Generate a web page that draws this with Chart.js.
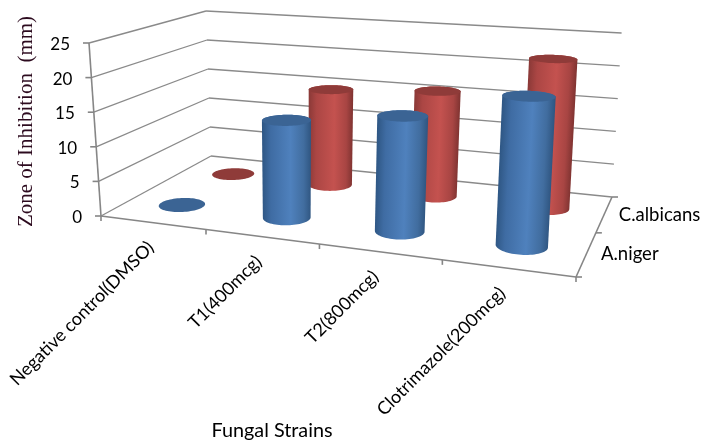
<!DOCTYPE html>
<html>
<head>
<meta charset="utf-8">
<script src="https://cdn.jsdelivr.net/npm/chart.js@4"></script>
<style>html,body{margin:0;padding:0;background:#fff}canvas{display:block}</style>
</head>
<body>
<canvas id="c" width="702" height="442"></canvas>
<script>
const categories = ['Negative control(DMSO)', 'T1(400mcg)', 'T2(800mcg)', 'Clotrimazole(200mcg)'];
const depthLabels = ['A.niger', 'C.albicans'];
const aNiger = [0, 14, 16, 20];
const cAlbicans = [0, 15, 16, 22];
const yTickMax = 25;
const yTickStep = 5;
const yTitle = 'Zone of Inhibition  (mm)';
const xTitle = 'Fungal Strains';

// projection of the unit box (u along categories, v along depth, w along values)
const floorQuad = [[101,216],[576,277],[612,197],[211,156]];
const topQuad   = [[89,43],[587,75],[621.6,33],[206,11]];
const SANS = 'Lato, "Open Sans", sans-serif';

function homography(q){
  const [p0,p1,p2,p3]=q;
  const sx=p0[0]-p1[0]+p2[0]-p3[0], sy=p0[1]-p1[1]+p2[1]-p3[1];
  const dx1=p1[0]-p2[0], dy1=p1[1]-p2[1], dx2=p3[0]-p2[0], dy2=p3[1]-p2[1];
  const det=dx1*dy2-dx2*dy1;
  const g=(sx*dy2-dx2*sy)/det, h=(dx1*sy-sx*dy1)/det;
  const a=p1[0]-p0[0]+g*p1[0], b=p3[0]-p0[0]+h*p3[0], c=p0[0];
  const d=p1[1]-p0[1]+g*p1[1], e=p3[1]-p0[1]+h*p3[1], f=p0[1];
  return (u,v)=>{const k=g*u+h*v+1;return [(a*u+b*v+c)/k,(d*u+e*v+f)/k];};
}
const hFloor=homography(floorQuad), hTop=homography(topQuad);
function P(u,v,w){
  const a=hFloor(u,v), b=hTop(u,v);
  return [a[0]+(b[0]-a[0])*w, a[1]+(b[1]-a[1])*w];
}
function line(ctx,a,b){ctx.beginPath();ctx.moveTo(a[0],a[1]);ctx.lineTo(b[0],b[1]);ctx.stroke();}
function hull(pts){
  const s=pts.slice().sort((a,b)=>a[0]-b[0]||a[1]-b[1]);
  const cross=(o,a,b)=>(a[0]-o[0])*(b[1]-o[1])-(a[1]-o[1])*(b[0]-o[0]);
  const lo=[],up=[];
  for(const p of s){while(lo.length>1&&cross(lo[lo.length-2],lo[lo.length-1],p)<=0)lo.pop();lo.push(p);}
  for(const p of s.slice().reverse()){while(up.length>1&&cross(up[up.length-2],up[up.length-1],p)<=0)up.pop();up.push(p);}
  return lo.slice(0,-1).concat(up.slice(0,-1));
}
function poly(ctx,pts){ctx.beginPath();pts.forEach((p,i)=>i?ctx.lineTo(p[0],p[1]):ctx.moveTo(p[0],p[1]));ctx.closePath();}

const RU=0.0505, RV=0.098;
function ring(u,v,w){
  const out=[];
  for(let i=0;i<72;i++){const t=i/72*2*Math.PI;out.push(P(u+RU*Math.cos(t),v+RV*Math.sin(t),w));}
  return out;
}
function cylinder(ctx,u,v,w,look){
  const bottom=ring(u,v,0), top=ring(u,v,w);
  if(w>0){
    const h=hull(bottom.concat(top));
    const a=P(u,v,0), b=P(u,v,w);
    let nx=-(b[1]-a[1]), ny=b[0]-a[0]; const L=Math.hypot(nx,ny)||1; nx/=L; ny/=L;
    if(nx<0){nx=-nx;ny=-ny;}
    const c=P(u,v,w/2);
    let mn=1e9,mx=-1e9;
    h.forEach(p=>{const d=(p[0]-c[0])*nx+(p[1]-c[1])*ny;mn=Math.min(mn,d);mx=Math.max(mx,d);});
    const g=ctx.createLinearGradient(c[0]+nx*mn,c[1]+ny*mn,c[0]+nx*mx,c[1]+ny*mx);
    look.side.forEach(s=>g.addColorStop(s[0],s[1]));
    poly(ctx,h);ctx.fillStyle=g;ctx.fill();
  }
  poly(ctx,top);ctx.fillStyle=look.top;ctx.fill();
}
const looks=[
  {top:'#3b6494',side:[[0,'#2e5683'],[.18,'#3f6ca3'],[.58,'#4f81bd'],[.85,'#416d9f'],[1,'#2f5580']]},
  {top:'#8f3b39',side:[[0,'#8a3937'],[.18,'#ab4644'],[.58,'#c4524f'],[.85,'#a84543'],[1,'#7f3331']]}
];

const box3d={
  id:'box3d',
  beforeDatasetsDraw(chart){
    const ctx=chart.ctx, y=chart.scales.y, x=chart.scales.x;
    ctx.save();
    ctx.lineCap='butt';
    ctx.strokeStyle='#8a8a8a';ctx.lineWidth=1.3;
    y.ticks.forEach(t=>{
      const w=(y.bottom-y.getPixelForValue(t.value))/y.height;
      line(ctx,P(0,0,w),P(0,1,w));
      line(ctx,P(0,1,w),P(1,1,w));
    });
    ctx.strokeStyle='#868686';ctx.lineWidth=1.6;
    line(ctx,P(0,0,0),P(0,0,1));
    line(ctx,P(0,0,0),P(1,0,0));
    line(ctx,P(1,0,0),P(1,1,0));
    ctx.fillStyle='#000';ctx.font='17px '+SANS;ctx.textAlign='right';ctx.textBaseline='middle';
    y.ticks.forEach(t=>{
      const w=(y.bottom-y.getPixelForValue(t.value))/y.height;
      const p=P(0,0,w);
      line(ctx,[p[0]-6,p[1]],p);
      ctx.fillText(String(t.value),p[0]-19,p[1]+1.5);
    });
    const n=categories.length;
    for(let i=0;i<=n;i++){const p=P(i/n,0,0);line(ctx,p,[p[0],p[1]+5]);}
    const m=depthLabels.length;
    for(let i=0;i<=m;i++){const p=P(1,i/m,0);line(ctx,p,[p[0]+6,p[1]]);}
    ctx.textAlign='right';ctx.textBaseline='middle';ctx.font='18px '+SANS;
    categories.forEach((c,i)=>{
      const u=(x.getPixelForValue(i)-x.left)/x.width;
      const p=P(u,0,0);
      ctx.save();ctx.translate(p[0]-1-5*u,p[1]+22);ctx.rotate(-Math.PI/4);ctx.fillText(c,0,0);ctx.restore();
    });
    const z=chart.scales.depth;
    ctx.textAlign='left';ctx.font='18.5px '+SANS;
    depthLabels.forEach((c,i)=>{
      const v=(z.getPixelForValue(i)-z.left)/z.width;
      const p=P(1,v,0);
      ctx.fillText(c,p[0]+14.5,p[1]+0.5);
    });
    ctx.textAlign='center';ctx.font='19.8px '+SANS;ctx.fillStyle='#000';
    ctx.fillText(xTitle,272,431);
    ctx.save();
    ctx.translate(26,121.5);ctx.rotate(-Math.PI/2);
    ctx.font='21px "Liberation Serif", serif';ctx.fillStyle='#2c0a1e';
    ctx.fillText(yTitle,0,0);
    ctx.restore();
    ctx.restore();
  },
  afterDatasetsDraw(chart){
    const ctx=chart.ctx, x=chart.scales.x, y=chart.scales.y, z=chart.scales.depth;
    ctx.save();
    [1,0].forEach(di=>{
      const ds=chart.data.datasets[di];
      const v=(z.getPixelForValue(di)-z.left)/z.width;
      ds.data.forEach((val,i)=>{
        const u=(x.getPixelForValue(i)-x.left)/x.width;
        const w=(y.bottom-y.getPixelForValue(val))/y.height;
        cylinder(ctx,u,v,w,looks[di]);
      });
    });
    ctx.restore();
  }
};

new Chart(document.getElementById('c'),{
  type:'bar',
  data:{
    labels:categories,
    datasets:[
      {label:depthLabels[0],data:aNiger,backgroundColor:'rgba(0,0,0,0)'},
      {label:depthLabels[1],data:cAlbicans,backgroundColor:'rgba(0,0,0,0)'}
    ]
  },
  options:{
    responsive:false,animation:false,events:[],
    layout:{padding:0},
    plugins:{legend:{display:false},tooltip:{enabled:false},title:{display:false}},
    scales:{
      x:{display:false,offset:true},
      depth:{axis:'x',type:'category',labels:depthLabels,display:false,offset:true},
      y:{display:false,min:0,max:yTickMax,ticks:{stepSize:yTickStep}}
    }
  },
  plugins:[box3d]
});
</script>
</body>
</html>
